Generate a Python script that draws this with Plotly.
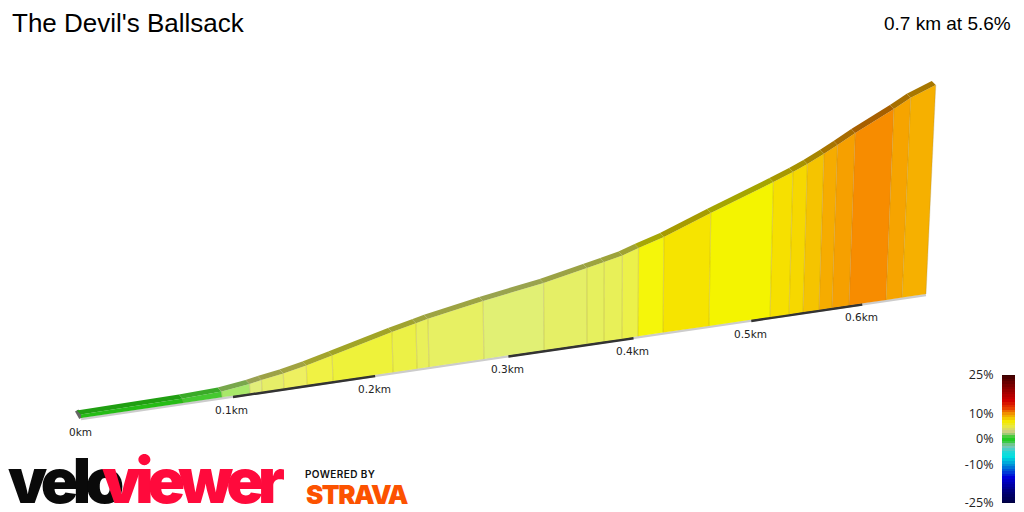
import plotly.graph_objects as go

# Climb profile
distance_km = [0, 0.0664, 0.0925, 0.1116, 0.1199, 0.1351, 0.1513, 0.1697, 0.2131, 0.2308,
               0.2397, 0.2812, 0.3279, 0.3621, 0.3759, 0.3906, 0.4037, 0.4245, 0.4634, 0.5165,
               0.5334, 0.5459, 0.5604, 0.5722, 0.5878, 0.6222, 0.6373, 0.6601]
elevation_m = [0.5, 0.66, 0.86, 1.36, 1.70, 2.20, 2.90, 3.86, 6.17, 7.00,
               7.45, 9.08, 10.67, 12.18, 12.80, 13.48, 14.38, 15.66, 18.71, 22.72,
               24.05, 25.16, 26.60, 27.85, 29.62, 33.14, 34.82, 36.68]
segment_colors = ['#26bc16', '#45c830', '#a8e86a', '#e2ee7a', '#e6ee68', '#eef060', '#f0f244',
                  '#eef23a', '#ecf146', '#e9f05a', '#e7f063', '#e1f074', '#e5ef66', '#e6f05e',
                  '#e8f058', '#ecf14a', '#f5f60a', '#f6e400', '#f4f400', '#f6e000', '#f6d800',
                  '#f5c400', '#f6ac00', '#f6a000', '#f78c00', '#f6a400', '#f6b000']
ribbon_shades = [0.85, 0.85, 0.72] + [0.68] * 24

km_marks = [0, 0.1, 0.2, 0.3, 0.4, 0.5, 0.6]
km_labels = ['0km', '0.1km', '0.2km', '0.3km', '0.4km', '0.5km', '0.6km']
dark_stretches = [(0.1, 0.2), (0.3, 0.4), (0.5, 0.6)]

bar_values = list(range(-25, 26))
bar_ticks = [-25, -10, 0, 10, 25]
bar_ticktext = ['-25%', '-10%', '0%', '10%', '25%']
bar_stops = [(-25, '#000040'), (-20, '#000080'), (-15, '#0000d8'), (-10, '#0090d8'), (-7, '#00e0e0'),
             (-5, '#20d8d8'), (-2.5, '#88c4b0'), (-0.5, '#22cc22'), (0.5, '#22cc22'), (2.5, '#c4c890'),
             (5, '#e8e840'), (7, '#f4e800'), (10, '#f09000'), (12, '#e84000'), (15, '#d00000'),
             (20, '#8a0000'), (25, '#3a0000')]

# the page body keeps an 8px margin, so the figure covers 8..1024 and 8..512
PAGE_MARGIN = 8


# perspective view of the climb, the axes below run in screen units
def project(km, metres):
    shrink = 1 / (1 + 0.346 * km)
    x = 81 + km / (6.36e-4 + 2.2e-4 * km)
    base = 418 - 0.1467 * (x - 81)
    height = metres * 7 * shrink
    return x + (x - 592) * 1.4e-4 * height, base - height


def darker(color, factor):
    r, g, b = [int(color[i:i + 2], 16) for i in (1, 3, 5)]
    return 'rgb(%d,%d,%d)' % (r * factor, g * factor, b * factor)


def spaced(text, px):
    return '<span style="letter-spacing:%spx">%s</span>' % (px, text)


fig = go.Figure()

# base line under the wall, light then the dark stretches
start = project(0, 0)
end = project(distance_km[-1], 0)
fig.add_trace(go.Scatter(x=[start[0], end[0]], y=[start[1] + 1, end[1] + 1], mode='lines',
                         line=dict(color='#cccccc', width=2.5), hoverinfo='skip'))
for a, b in dark_stretches:
    p, q = project(a, 0), project(b, 0)
    fig.add_trace(go.Scatter(x=[p[0], q[0]], y=[p[1] + 1, q[1] + 1], mode='lines',
                             line=dict(color='#333333', width=3), hoverinfo='skip'))

# start cap
cap = project(0, elevation_m[0])
fig.add_trace(go.Scatter(x=[start[0], cap[0] - 4], y=[start[1], cap[1] - 4], mode='lines',
                         line=dict(color='#666666', width=4), hoverinfo='skip'))

# walls and the road ribbon on top
for i, color in enumerate(segment_colors):
    d0, d1 = distance_km[i], distance_km[i + 1]
    h0, h1 = elevation_m[i], elevation_m[i + 1]
    corners = [project(d0, 0), project(d1, 0), project(d1, h1), project(d0, h0)]
    fig.add_trace(go.Scatter(x=[c[0] for c in corners], y=[c[1] for c in corners], fill='toself',
                             fillcolor=color, mode='lines', line=dict(width=0), hoverinfo='skip'))
    t0, t1 = corners[3], corners[2]
    fig.add_trace(go.Scatter(x=[t0[0], t1[0], t1[0] - 4, t0[0] - 4], y=[t0[1], t1[1], t1[1] - 4, t0[1] - 4],
                             fill='toself', fillcolor=darker(color, ribbon_shades[i]), mode='lines',
                             line=dict(width=0), hoverinfo='skip'))

# thin lines between the walls
edge_x, edge_y = [], []
for d, h in zip(distance_km[1:], elevation_m[1:]):
    p, q = project(d, 0), project(d, h)
    edge_x += [p[0], q[0], None]
    edge_y += [p[1], q[1], None]
fig.add_trace(go.Scatter(x=edge_x, y=edge_y, mode='lines', line=dict(color='rgba(140,120,60,0.22)', width=1.2),
                         hoverinfo='skip'))

# gradient key
fig.add_trace(go.Heatmap(x=[0], y=bar_values, z=[[v] for v in bar_values], zmin=-25, zmax=25,
                         colorscale=[[(v + 25) / 50, c] for v, c in bar_stops], showscale=False,
                         xaxis='x2', yaxis='y2', hoverinfo='skip'))

for km, label in zip(km_marks, km_labels):
    x, y = project(km, 0)
    fig.add_annotation(x=x - 1, y=y, yshift=-14, yanchor='middle', text=label, showarrow=False,
                       font=dict(family='DejaVu Sans', size=10.5, color='#222222'))

fig.add_annotation(x=10, y=23, xanchor='left', yanchor='middle', text="The Devil's Ballsack", showarrow=False,
                   font=dict(family='Liberation Sans', size=26, color='black'))
fig.add_annotation(x=1013, y=23, xanchor='right', yanchor='middle', text='0.7 km at 5.6%', showarrow=False,
                   font=dict(family='Liberation Sans', size=19, color='black'))

# logos
fig.add_annotation(x=PAGE_MARGIN, xshift=-2, y=480, xanchor='left', yanchor='middle', text=spaced('velo', -5.5),
                   showarrow=False, font=dict(family='Inter', size=62, color='#0a0a0a', weight=900))
fig.add_annotation(x=100, y=480, xanchor='left', yanchor='middle', text=spaced('viewer', -6), showarrow=False,
                   font=dict(family='Inter', size=62, color='#ff0a3c', weight=900))
fig.add_annotation(x=303, y=474, xanchor='left', yanchor='middle', text=spaced('POWERED BY', 0.4), showarrow=False,
                   font=dict(family='Inter', size=10, color='#111111', weight=600))
fig.add_annotation(x=304, y=494, xanchor='left', yanchor='middle', text=spaced('STRAVA', -1.5), showarrow=False,
                   font=dict(family='Inter', size=26, color='#fc5200', weight=900))

fig.update_layout(
    width=1024 - PAGE_MARGIN, height=512 - PAGE_MARGIN, margin=dict(l=0, r=0, t=0, b=0, autoexpand=False),
    paper_bgcolor='white', plot_bgcolor='white', showlegend=False,
    xaxis=dict(range=[PAGE_MARGIN, 1024], visible=False, domain=[0, 1], automargin=False),
    yaxis=dict(range=[512, PAGE_MARGIN], visible=False, domain=[0, 1], automargin=False),
    xaxis2=dict(domain=[(1002 - PAGE_MARGIN) / 1016, (1015 - PAGE_MARGIN) / 1016], visible=False, anchor='y2',
                automargin=False),
    yaxis2=dict(domain=[9 / 504, 137 / 504], range=[-25, 25], anchor='x2', side='left', showgrid=False,
                zeroline=False, tickvals=bar_ticks, ticktext=bar_ticktext, ticks='outside', ticklen=5,
                automargin=False, tickcolor='rgba(0,0,0,0)',
                tickfont=dict(family='Open Sans', size=12.5, color='#222222')),
)

fig.write_html("out.html")
